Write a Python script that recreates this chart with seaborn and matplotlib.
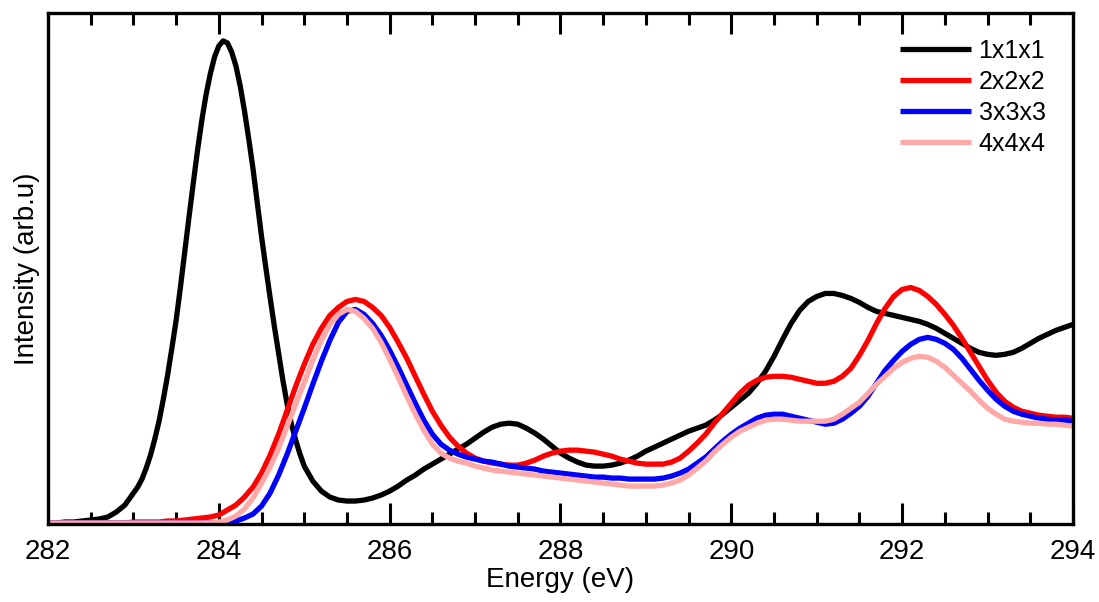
import numpy as np
import pandas as pd
import seaborn as sns
import matplotlib
matplotlib.use("Agg")
import matplotlib.pyplot as plt
from matplotlib.ticker import MultipleLocator

# ---------------- data ----------------
energy = np.round(np.arange(282.0, 294.0001, 0.1), 1)

# 1x1x1: finer sampling across its narrow peak (283.0 - 285.0 eV)
energy_1x1x1 = np.round(np.concatenate([
    np.arange(282.0, 282.95, 0.1),
    np.arange(283.0, 285.0, 0.05),
    np.arange(285.0, 294.0001, 0.1),
]), 2)

s1x1x1 = [
    0.00, 0.00, 0.01, 0.01, 0.02, 0.03, 0.04, 0.06, 0.11, 0.18,   # 282.0-282.9
    0.30, 0.36, 0.44, 0.55, 0.68, 0.84, 1.02, 1.24, 1.48, 1.75,   # 283.00-283.45
    2.03, 2.36, 2.71, 3.06, 3.40, 3.73, 4.03, 4.29, 4.50, 4.67,   # 283.50-283.95
    4.78, 4.83, 4.81, 4.72, 4.58, 4.38, 4.13, 3.85, 3.55, 3.21,   # 284.00-284.45
    2.87, 2.56, 2.26, 1.97, 1.70, 1.43, 1.19, 0.99, 0.83, 0.69,   # 284.50-284.95
    0.57, 0.42, 0.32, 0.26, 0.23, 0.22, 0.22, 0.23, 0.25, 0.28,   # 285.0-285.9
    0.32, 0.37, 0.43, 0.48, 0.54, 0.59, 0.64, 0.69, 0.74, 0.79,   # 286.0-286.9
    0.85, 0.91, 0.96, 0.99, 1.00, 0.99, 0.95, 0.90, 0.84, 0.77,   # 287.0-287.9
    0.70, 0.65, 0.61, 0.58, 0.57, 0.57, 0.58, 0.60, 0.63, 0.67,   # 288.0-288.9
    0.72, 0.76, 0.80, 0.84, 0.88, 0.92, 0.95, 0.98, 1.03, 1.09,   # 289.0-289.9
    1.16, 1.23, 1.30, 1.40, 1.52, 1.67, 1.84, 2.00, 2.13, 2.22,   # 290.0-290.9
    2.27, 2.30, 2.30, 2.28, 2.25, 2.21, 2.16, 2.12, 2.10, 2.08,   # 291.0-291.9
    2.06, 2.04, 2.02, 1.99, 1.95, 1.90, 1.85, 1.80, 1.75, 1.71,   # 292.0-292.9
    1.69, 1.68, 1.69, 1.71, 1.75, 1.80, 1.85, 1.89, 1.93, 1.96,   # 293.0-293.9
    1.99,                                                         # 294.0
]

s2x2x2 = [
    0.00, 0.00, 0.00, 0.00, 0.00, 0.00, 0.00, 0.00, 0.00, 0.00,
    0.01, 0.01, 0.01, 0.01, 0.02, 0.02, 0.03, 0.04, 0.05, 0.06,
    0.08, 0.13, 0.18, 0.26, 0.36, 0.50, 0.68, 0.89, 1.13, 1.37,
    1.59, 1.79, 1.95, 2.08, 2.16, 2.22, 2.24, 2.22, 2.16, 2.08,
    1.96, 1.81, 1.65, 1.47, 1.29, 1.12, 0.98, 0.86, 0.77, 0.70,
    0.65, 0.62, 0.60, 0.59, 0.58, 0.58, 0.60, 0.63, 0.67, 0.70,
    0.72, 0.73, 0.73, 0.72, 0.71, 0.69, 0.67, 0.64, 0.62, 0.60,
    0.59, 0.59, 0.59, 0.61, 0.65, 0.72, 0.80, 0.89, 1.00, 1.10,
    1.20, 1.30, 1.38, 1.43, 1.46, 1.47, 1.47, 1.46, 1.44, 1.42,
    1.40, 1.40, 1.42, 1.47, 1.55, 1.68, 1.83, 2.00, 2.15, 2.27,
    2.34, 2.36, 2.33, 2.27, 2.19, 2.09, 1.98, 1.85, 1.71, 1.57,
    1.43, 1.31, 1.22, 1.16, 1.12, 1.10, 1.08, 1.07, 1.06, 1.06,
    1.05,
]

s3x3x3 = [
    0.00, 0.00, 0.00, 0.00, 0.00, 0.00, 0.00, 0.00, 0.00, 0.00,
    0.00, 0.00, 0.00, 0.00, 0.00, 0.00, 0.00, 0.00, 0.00, 0.00,
    0.00, 0.01, 0.02, 0.05, 0.09, 0.17, 0.30, 0.48, 0.69, 0.92,
    1.15, 1.39, 1.62, 1.83, 2.01, 2.12, 2.14, 2.09, 2.00, 1.88,
    1.73, 1.56, 1.38, 1.20, 1.03, 0.89, 0.79, 0.73, 0.69, 0.66,
    0.64, 0.62, 0.61, 0.59, 0.57, 0.56, 0.55, 0.54, 0.52, 0.51,
    0.50, 0.49, 0.48, 0.47, 0.46, 0.46, 0.45, 0.45, 0.44, 0.44,
    0.44, 0.44, 0.45, 0.47, 0.50, 0.54, 0.60, 0.66, 0.74, 0.82,
    0.89, 0.95, 1.00, 1.05, 1.08, 1.09, 1.09, 1.07, 1.05, 1.03,
    1.01, 0.99, 1.00, 1.04, 1.10, 1.17, 1.27, 1.40, 1.53, 1.63,
    1.72, 1.79, 1.84, 1.86, 1.84, 1.80, 1.74, 1.65, 1.54, 1.43,
    1.33, 1.24, 1.17, 1.12, 1.09, 1.07, 1.05, 1.04, 1.03, 1.03,
    1.02,
]

s4x4x4 = [
    0.00, 0.00, 0.00, 0.00, 0.00, 0.00, 0.00, 0.00, 0.00, 0.00,
    0.00, 0.00, 0.00, 0.00, 0.00, 0.00, 0.00, 0.00, 0.00, 0.00,
    0.01, 0.03, 0.07, 0.14, 0.25, 0.40, 0.56, 0.75, 0.97, 1.19,
    1.41, 1.63, 1.83, 1.99, 2.09, 2.14, 2.12, 2.05, 1.95, 1.81,
    1.64, 1.46, 1.27, 1.09, 0.93, 0.79, 0.70, 0.65, 0.62, 0.60,
    0.57, 0.55, 0.53, 0.52, 0.51, 0.50, 0.49, 0.48, 0.47, 0.46,
    0.45, 0.44, 0.43, 0.42, 0.41, 0.40, 0.39, 0.38, 0.37, 0.37,
    0.37, 0.37, 0.38, 0.40, 0.43, 0.48, 0.55, 0.62, 0.71, 0.79,
    0.86, 0.92, 0.96, 1.00, 1.03, 1.04, 1.04, 1.03, 1.02, 1.02,
    1.02, 1.02, 1.04, 1.09, 1.15, 1.21, 1.30, 1.39, 1.47, 1.55,
    1.61, 1.65, 1.67, 1.66, 1.62, 1.56, 1.48, 1.40, 1.32, 1.23,
    1.15, 1.09, 1.04, 1.02, 1.01, 1.00, 1.00, 0.99, 0.99, 0.98,
    0.97,
]

series_names = ["1x1x1", "2x2x2", "3x3x3", "4x4x4"]
series_x = [energy_1x1x1, energy, energy, energy]
series_values = [s1x1x1, s2x2x2, s3x3x3, s4x4x4]
colors = ["#000000", "#FF0000", "#0000FF", "#FFA8A8"]
x_ticks = [282, 284, 286, 288, 290, 292, 294]

# ---------------- figure ----------------
sns.set_theme(style="white")
plt.rcParams["font.family"] = ["Liberation Sans", "DejaVu Sans"]
plt.rcParams["text.color"] = "black"
plt.rcParams["axes.labelcolor"] = "black"
plt.rcParams["xtick.color"] = "black"
plt.rcParams["ytick.color"] = "black"

fig = plt.figure(figsize=(10.99, 6.02), dpi=100)
ax = fig.add_axes([48 / 1099, 78 / 602, 1025 / 1099, 511 / 602])

for name, xs, vals, col in zip(series_names, series_x, series_values, colors):
    df = pd.DataFrame({"Energy": xs, "Intensity": vals})
    sns.lineplot(data=df, x="Energy", y="Intensity", ax=ax, color=col,
                 linewidth=3.8, label=name, solid_capstyle="butt",
                 solid_joinstyle="round")

ax.set_xlim(282, 294)
ax.set_ylim(-0.01, 5.11)
ax.set_xticks(x_ticks)
ax.set_xticklabels([str(t) for t in x_ticks])
ax.xaxis.set_minor_locator(MultipleLocator(0.5))
ax.set_yticks([])

ax.tick_params(axis="x", which="major", direction="in", length=15, width=2.2,
               top=True, bottom=True, labelsize=20, pad=11, colors="black")
ax.tick_params(axis="x", which="minor", direction="in", length=8.5, width=2.2,
               top=True, bottom=True, colors="black")

for sp in ax.spines.values():
    sp.set_visible(True)
    sp.set_color("black")
    sp.set_linewidth(2.4)

ax.set_xlabel("Energy (eV)", fontsize=20, labelpad=1, color="black")
ax.set_ylabel("Intensity (arb.u)", fontsize=20, labelpad=6, color="black")

leg = ax.legend(loc="upper right", frameon=False, fontsize=18,
                handlelength=2.85, handletextpad=0.3, labelspacing=0.28,
                borderaxespad=0.0, bbox_to_anchor=(0.983, 0.969))
for line in leg.get_lines():
    line.set_linewidth(3.8)
for t in leg.get_texts():
    t.set_color("black")

fig.savefig("out.png", dpi=100)
